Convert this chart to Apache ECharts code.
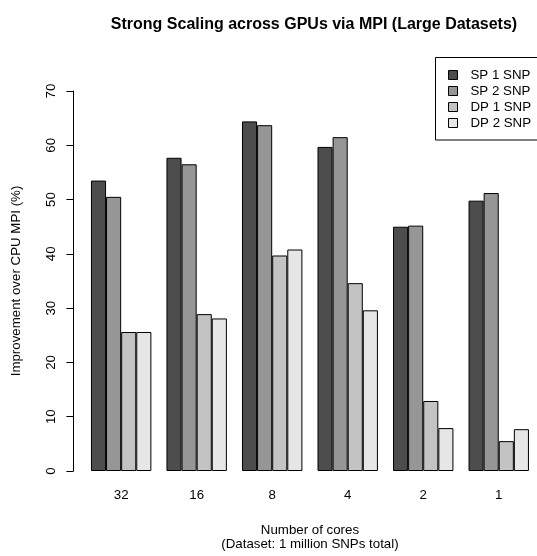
<!DOCTYPE html>
<html>
<head>
<meta charset="utf-8">
<script src="https://cdn.jsdelivr.net/npm/echarts@6/dist/echarts.min.js"></script>
<style>
  html, body { margin: 0; padding: 0; background: #fff; }
  #chart { width: 537px; height: 556px; }
</style>
</head>
<body>
<div id="chart"></div>
<script>
// cores used (x categories)
var cores = ['32', '16', '8', '4', '2', '1']
var seriesNames = ['SP 1 SNP', 'SP 2 SNP', 'DP 1 SNP', 'DP 2 SNP']
var sp1 = [53.5, 57.7, 64.4, 59.7, 45.0, 49.8]
var sp2 = [50.5, 56.5, 63.7, 61.5, 45.2, 51.2]
var dp1 = [25.6, 28.9, 39.7, 34.6, 12.9, 5.5]
var dp2 = [25.6, 28.1, 40.8, 29.6, 7.9, 7.7]
var yTicks = [0, 10, 20, 30, 40, 50, 60, 70]
var greys = ['#4d4d4d', '#969696', '#c3c3c3', '#e6e6e6']

var font = 'Liberation Sans, Arial, sans-serif'
var values = [sp1, sp2, dp1, dp2]

var series = []
for (var i = 0; i < seriesNames.length; i++) {
  series.push({
    name: seriesNames[i],
    type: 'bar',
    data: values[i],
    barGap: '0%',
    barCategoryGap: '20%',
    itemStyle: {
      color: greys[i],
      borderColor: '#000',
      borderWidth: 1
    },
    emphasis: { disabled: true }
  })
}

var myChart = echarts.init(document.getElementById('chart'))
myChart.setOption({
  animation: false,
  textStyle: { fontFamily: font },
  title: {
    text: 'Strong Scaling across GPUs via MPI (Large Datasets)',
    left: 309,
    textAlign: 'center',
    top: 12,
    textStyle: { fontSize: 16, fontWeight: 'bold', color: '#000', fontFamily: font }
  },
  legend: {
    data: seriesNames,
    orient: 'vertical',
    left: 448,
    top: 67,
    padding: 0,
    itemWidth: 9,
    itemHeight: 9,
    itemGap: 0,
    icon: 'rect',
    itemStyle: { borderColor: '#000', borderWidth: 1 },
    textStyle: { fontSize: 13.3, lineHeight: 16, color: '#000', fontFamily: font, padding: [0, 0, 0, 8] }
  },
  graphic: [{
    type: 'rect',
    shape: { x: 435.5, y: 57.5, width: 120, height: 82.5 },
    style: { fill: 'none', stroke: '#000', lineWidth: 1 },
    z: 100
  }],
  grid: {
    left: 83.4,
    right: 0.5,
    top: 91,
    bottom: 82
  },
  xAxis: {
    type: 'category',
    data: cores,
    axisLine: { show: false },
    axisTick: { show: false },
    axisLabel: { fontSize: 13.3, color: '#000', margin: 18 },
    name: 'Number of cores\n(Dataset: 1 million SNPs total)',
    nameLocation: 'middle',
    nameGap: 52,
    nameTextStyle: { fontSize: 13.3, color: '#000', lineHeight: 14 }
  },
  yAxis: {
    type: 'value',
    min: 0,
    max: 70,
    interval: 10,
    offset: 10,
    splitLine: { show: false },
    axisLine: { show: true, lineStyle: { color: '#000', width: 1 } },
    axisTick: { show: true, length: 7, lineStyle: { color: '#000' } },
    axisLabel: {
      fontSize: 13.3,
      color: '#000',
      rotate: 90,
      margin: 16,
      formatter: function (v) { return yTicks.indexOf(v) >= 0 ? String(v) : '' }
    },
    name: 'Improvement over CPU MPI (%)',
    nameLocation: 'middle',
    nameRotate: 90,
    nameGap: 51,
    nameTextStyle: { fontSize: 13.3, color: '#000' }
  },
  series: series
})
</script>
</body>
</html>
